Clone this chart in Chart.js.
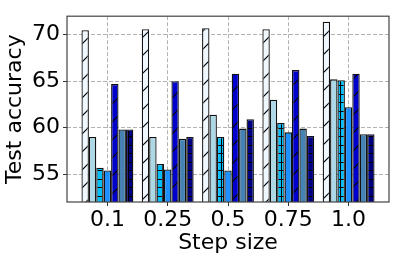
<!DOCTYPE html>
<html>
<head>
<meta charset="utf-8">
<script src="https://cdn.jsdelivr.net/npm/chart.js@4"></script>
<style>
  html, body { margin: 0; padding: 0; background: #fff; }
  #wrap { width: 399px; height: 263px; }
</style>
</head>
<body>
<div id="wrap"><canvas id="chart" width="399" height="263"></canvas></div>
<script>
const stepSizes = ['0.1', '0.25', '0.5', '0.75', '1.0'];
const yTicks = [55, 60, 65, 70];

const series1 = [70.5, 70.6, 70.7, 70.6, 71.4];
const series2 = [59.0, 59.0, 61.4, 63.0, 65.2];
const series3 = [55.7, 56.1, 59.0, 60.5, 65.1];
const series4 = [55.4, 55.5, 55.4, 59.5, 62.2];
const series5 = [64.7, 65.0, 65.8, 66.2, 65.8];
const series6 = [59.8, 58.8, 59.9, 59.9, 59.3];
const series7 = [59.8, 59.0, 60.9, 59.1, 59.3];

const FONT = 'DejaVu Sans';

// hatch patterns, drawn like matplotlib's '/' and '+'
function slashHatch(bg) {
    const p = 18;
    const c = document.createElement('canvas');
    c.width = p; c.height = p;
    const g = c.getContext('2d');
    g.fillStyle = bg;
    g.fillRect(0, 0, p, p);
    g.strokeStyle = '#000';
    g.lineWidth = 1.2;
    g.beginPath();
    g.moveTo(-2, p + 2); g.lineTo(p + 2, -2);
    g.moveTo(-2, 2); g.lineTo(2, -2);
    g.moveTo(p - 2, p + 2); g.lineTo(p + 2, p - 2);
    g.stroke();
    return document.createElement('canvas').getContext('2d').createPattern(c, 'repeat');
}

function plusHatch(bg) {
    const p = 8.5;
    const c = document.createElement('canvas');
    c.width = 17; c.height = 17;
    const g = c.getContext('2d');
    g.fillStyle = bg;
    g.fillRect(0, 0, 17, 17);
    g.strokeStyle = '#000';
    g.lineWidth = 1;
    g.beginPath();
    for (let k = 0; k < 2; k++) {
        const o = Math.round(k * p) + 0.5;
        g.moveTo(0, o); g.lineTo(17, o);
        g.moveTo(o, 0); g.lineTo(o, 17);
    }
    g.stroke();
    return document.createElement('canvas').getContext('2d').createPattern(c, 'repeat');
}

const seriesList = [series1, series2, series3, series4, series5, series6, series7];
const fills = [
    slashHatch('#F0F8FF'),
    '#ADD8E6',
    plusHatch('#00BFFF'),
    '#1E90FF',
    slashHatch('#0000CD'),
    '#4682B4',
    plusHatch('#000080')
];

const datasets = seriesList.map((vals, i) => ({
    label: 'Series ' + (i + 1),
    data: vals.map((v, j) => ({ x: j, y: v })),
    backgroundColor: fills[i],
    borderColor: '#111',
    borderWidth: 1.3,
    categoryPercentage: 0.86,
    barPercentage: 1.0
}));

const framePlugin = {
    id: 'frame',
    afterDraw(chart) {
        const a = chart.chartArea;
        const ctx = chart.ctx;
        ctx.save();
        ctx.strokeStyle = '#444';
        ctx.lineWidth = 1.2;
        ctx.strokeRect(a.left, a.top, a.right - a.left, a.bottom - a.top);
        ctx.restore();
    }
};

new Chart(document.getElementById('chart'), {
    type: 'bar',
    data: { datasets },
    options: {
        responsive: false,
        animation: false,
        layout: { padding: { top: 10, right: 10, left: 0, bottom: 0 } },
        plugins: { legend: { display: false }, tooltip: { enabled: false } },
        scales: {
            x: {
                type: 'linear',
                min: -0.67,
                max: 4.67,
                offset: false,
                z: 1,
                grid: { offset: false, color: 'rgba(170,170,170,0.9)', lineWidth: 1, tickColor: '#333', tickLength: 4 },
                border: { display: false, dash: [4, 2] },
                afterBuildTicks: s => { s.ticks = stepSizes.map((t, i) => ({ value: i })); },
                afterFit: s => { s.height = 61; },
                ticks: {
                    autoSkip: false, maxRotation: 0, padding: 1.5,
                    color: '#000', font: { family: FONT, size: 22 },
                    callback: v => stepSizes[Math.round(v)]
                },
                title: {
                    display: true, text: 'Step size', color: '#000',
                    font: { family: FONT, size: 22 }, padding: { top: 0, bottom: 6.4 }
                }
            },
            y: {
                min: 52,
                max: 72,
                z: 1,
                grid: { color: 'rgba(170,170,170,0.9)', lineWidth: 1, tickColor: '#333', tickLength: 4 },
                border: { display: false, dash: [4, 2] },
                afterBuildTicks: s => { s.ticks = yTicks.map(v => ({ value: v })); },
                afterFit: s => { s.width = 67; },
                ticks: { padding: 3, color: '#000', font: { family: FONT, size: 22 } },
                title: {
                    display: true, text: 'Test accuracy', color: '#000',
                    font: { family: FONT, size: 22 }, padding: { top: 2.5, bottom: 0 }
                }
            }
        }
    },
    plugins: [framePlugin]
});
</script>
</body>
</html>
